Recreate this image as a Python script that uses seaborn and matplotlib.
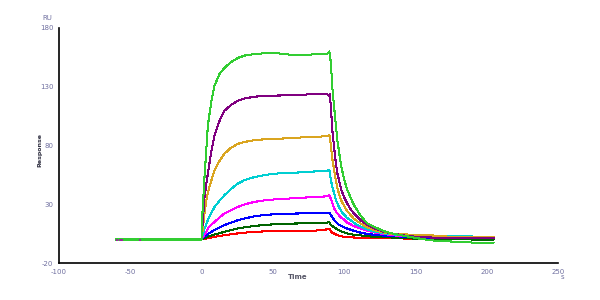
import numpy as np
import pandas as pd
import matplotlib
matplotlib.use("Agg")
import matplotlib.pyplot as plt
import seaborn as sns

# ---- data ----
base_t = [-60.0]
assoc_t = [0, 0.5, 2, 3.3, 4.4, 6.8, 9.1, 12.6, 16, 20.6, 25.4, 30, 37, 44, 51, 58, 65, 72, 80, 88, 89.5]
dissoc_t = [90, 90.7, 91.8, 93, 94.2, 95.3, 96.5, 98, 100, 102, 104.7, 107, 111.7, 116, 121, 128, 135, 145, 155, 165, 175, 190, 205]

green = [0,
         0, 20, 52, 76, 97, 117, 131, 141, 146, 151, 154.5, 156.5, 157.8, 158.5, 158.8, 157.8, 157, 157, 157.7, 157.8, 160,
         157, 150, 128, 112.5, 97, 84, 74, 62, 51, 43, 35, 29, 20, 14, 10.8, 7, 4.8, 2.5, 0.3, -1.2, -1.7, -2.6, -2.6]
purple = [0,
          0, 10, 35, 47, 56, 75, 89, 101, 109.5, 114.5, 118, 120, 121.5, 122.2, 122.5, 122.6, 123, 123.3, 123.8, 124, 122,
          124, 112, 92, 78, 65, 56, 50, 42, 36, 31, 25.5, 22, 16.4, 12.6, 9.5, 6.5, 4.8, 2.8, 2, 1.5, 1.2, 1, 1]
orange = [0,
          0, 5, 22, 33, 40, 50, 59, 67, 73, 78, 81.4, 83, 84.5, 85.3, 85.7, 86, 86.5, 87, 87.3, 88, 88.7,
          88, 79, 68, 59, 50, 43.5, 38.5, 33, 28.5, 24.5, 20.5, 17.5, 13.5, 10.5, 8, 5.8, 4.6, 4.2, 4, 3.2, 2.2, 2, 2]
cyan = [0,
        0, 3, 9, 13, 16.5, 22.5, 27.7, 33, 37.6, 43, 47.5, 50.5, 53.1, 54.8, 56, 56.5, 56.9, 57.2, 58, 58.5, 59.5,
        57, 50.3, 44.7, 39, 34, 30.5, 27.5, 24, 21, 18.5, 16.4, 14, 10.8, 8.7, 6.8, 5.2, 4.3, 3.5, 3.2, 2.9, 2.9, 2.8, np.nan]
magenta = [0,
           0, 1.5, 4, 6.5, 9.4, 12.5, 15, 18.7, 22.1, 25, 27.7, 29.8, 32, 33.3, 34.1, 34.4, 35.3, 35.7, 36, 36.8, 37.5,
           36.5, 34.8, 30.5, 26.5, 24, 22, 20.5, 18.5, 17, 14.5, 12.8, 11.3, 9.2, 7.5, 6, 4.6, 3.5, 2.8, 2.2, 2, 1.8, 1.5, 1.2]
blue = [0,
        0, 0.8, 2.3, 3.6, 4.6, 6.5, 8, 10.3, 12.2, 14.3, 16.4, 17.8, 19.8, 20.8, 21.5, 22, 22.1, 22.2, 22.5, 22.6, 22.8,
        22, 20.7, 18.8, 16.5, 15, 13.5, 12.5, 11.5, 10.5, 9.3, 8.3, 7.3, 5.8, 4.8, 4, 3.3, 2.8, 2.2, 1.6, 1.5, 1.5, 1.5, 1.4]
darkgreen = [0,
             0, 0.5, 1.3, 1.8, 2.3, 3.3, 4.3, 5.4, 6.5, 7.9, 9.4, 10.3, 11.6, 12.3, 13, 13.3, 13.6, 13.7, 14, 14.2, 15,
             13.6, 12.2, 11.3, 10.3, 9.4, 8.6, 7.8, 7, 6, 5.2, 4.5, 4, 3.5, 2.8, 2.3, 2, 1.6, 1, 0.5, 0.3, 0.2, 0, 0]
red = [0,
       0, 0.3, 0.6, 0.8, 1, 1.6, 2.3, 3, 3.7, 4.4, 5.2, 5.8, 6.5, 6.9, 7.1, 7.3, 7.4, 7.4, 7.6, 8.6, 9,
       8.8, 6.5, 5.8, 5, 4.3, 3.7, 3.2, 2.7, 2.3, 2, 1.8, 1.7, 1.5, 1.3, 1.2, 1, 1, 0.8, 0.8, 0.8, 0.8, 0.8, 0.8]

marker_t = [-59, -57.5, -56, -43]
marker_v = [0, 0, 0, 0]

x_ticks = [-100, -50, 0, 50, 100, 150, 200, 250]
y_ticks = [-20, 30, 80, 130, 180]

series = {
    "red": red, "darkgreen": darkgreen, "blue": blue, "magenta": magenta,
    "cyan": cyan, "orange": orange, "purple": purple, "green": green,
}
palette = {
    "red": "#FF0000", "darkgreen": "#006400", "blue": "#0000FF", "magenta": "#FF00FF",
    "cyan": "#00CED1", "orange": "#DAA520", "purple": "#800080", "green": "#32CD32",
}

times = base_t + assoc_t + dissoc_t
rows = []
for name, vals in series.items():
    for t, v in zip(times, vals):
        rows.append({"Time": t, "Response": v, "conc": name})
df = pd.DataFrame(rows).dropna()

sns.set_style("white")
fig = plt.figure(figsize=(6, 3), dpi=100)
ax = fig.add_axes([59 / 600, 1 - 263 / 300, (558 - 59) / 600, (263 - 28) / 300])

sns.lineplot(data=df, x="Time", y="Response", hue="conc", palette=palette,
             hue_order=list(series.keys()), estimator=None, sort=False,
             linewidth=0.75, legend=False, ax=ax, antialiased=False)
for i, line in enumerate(ax.get_lines()):
    line.set_zorder(2 + i * 0.01)
ax.scatter(marker_t, marker_v, s=3, marker="s", color="#A020A0", zorder=3, linewidths=0)

ax.set_xlim(-100, 250)
ax.set_ylim(-20, 180)
ax.set_xticks(x_ticks)
ax.set_yticks(y_ticks)
ax.set_xticklabels([str(v) for v in x_ticks])
ax.set_yticklabels([str(v) for v in y_ticks])
ax.tick_params(axis="both", direction="inout", length=4, width=1, labelsize=5,
               labelcolor="#7070A0", pad=2, color="black")
for s in ["top", "right"]:
    ax.spines[s].set_visible(False)
for s in ["left", "bottom"]:
    ax.spines[s].set_color("black")
    ax.spines[s].set_linewidth(1.2)
ax.set_xlabel("")
ax.set_ylabel("")

fig.text(47 / 600, 1 - 18 / 300, "RU", fontsize=5, color="#7070A0", ha="center", va="center")
fig.text(40 / 600, 0.5, "Response", fontsize=4.5, color="#333344", rotation=90,
         ha="center", va="center", fontweight="bold")
fig.text(298 / 600, 1 - 277 / 300, "Time", fontsize=5, color="#555566", ha="center", va="center",
         fontweight="bold")
fig.text(562 / 600, 1 - 277 / 300, "s", fontsize=5, color="#7070A0", ha="center", va="center")

fig.savefig("out.png", dpi=100)
